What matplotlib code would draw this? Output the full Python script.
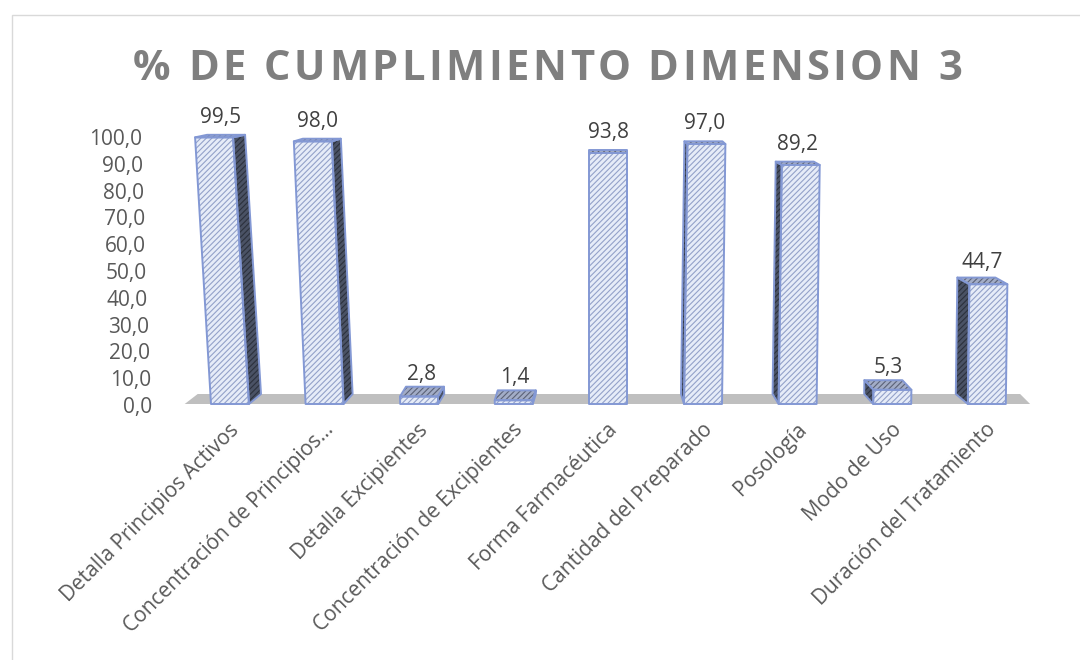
import matplotlib
matplotlib.use("Agg")
import matplotlib.pyplot as plt
import matplotlib.transforms as mtransforms
from matplotlib.patches import Polygon, Rectangle

plt.rcParams["font.family"] = ["Open Sans", "DejaVu Sans"]
plt.rcParams["hatch.linewidth"] = 0.8

TITLE = "% DE CUMPLIMIENTO DIMENSION 3"
CATEGORIES = [
    "Detalla Principios Activos",
    "Concentración de Principios…",
    "Detalla Excipientes",
    "Concentración de Excipientes",
    "Forma Farmacéutica",
    "Cantidad del Preparado",
    "Posología",
    "Modo de Uso",
    "Duración del Tratamiento",
]
VALUES = [99.5, 98.0, 2.8, 1.4, 93.8, 97.0, 89.2, 5.3, 44.7]
Y_TICKS = [0, 10, 20, 30, 40, 50, 60, 70, 80, 90, 100]

W, H = 1080, 660

FRONT_FILL, FRONT_HATCH = "#e6ecf8", "#93a1c9"
SIDE_FILL, SIDE_HATCH = "#4a5265", "#2c313d"
TOP_FILL, TOP_HATCH = "#a2acc6", "#5b6277"
EDGE = "#8398d4"
FLOOR = "#bfbfbf"
LABEL = "#595959"
VALUE_LABEL = "#404040"


def fmt(v):
    return f"{v:.1f}".replace(".", ",")


def face(ax, pts, fill, hatch_col):
    ax.add_patch(Polygon(pts, closed=True, facecolor=fill, edgecolor=hatch_col,
                         hatch="//////", lw=0, clip_on=False, zorder=2))
    ax.add_patch(Polygon(pts, closed=True, fill=False, edgecolor=EDGE, lw=1.4,
                         joinstyle="round", clip_on=False, zorder=3))


def spaced_text(fig, s, cx, baseline, target_w, **kw):
    """Draw s letter by letter, spread out to target_w pixels."""
    r = fig.canvas.get_renderer()

    def width(t):
        tt = fig.text(0, 0, t + "|", **kw)
        w = tt.get_window_extent(r).width
        tt.remove()
        return w

    bar_w = width("")
    natural = width(s) - bar_w
    track = max(0.0, (target_w - natural) / (len(s) - 1))
    x0 = cx - (natural + track * (len(s) - 1)) / 2
    for k, ch in enumerate(s):
        off = width(s[:k]) - bar_w + k * track
        fig.text((x0 + off) / W, baseline, ch, ha="left", va="baseline", **kw)


fig = plt.figure(figsize=(W / 100, H / 100), dpi=100)

# light chart-area frame
fig.patches.append(Rectangle((12 / W, -0.1), 1.2, (H - 15) / H + 0.1,
                             transform=fig.transFigure, fill=False,
                             edgecolor="#d9d9d9", lw=1.0))

ax_l, ax_r, ax_b, ax_t = 182.7, 1034.1, 404, 136
ax = fig.add_axes([ax_l / W, (H - ax_b) / H, (ax_r - ax_l) / W, (ax_b - ax_t) / H])
ax.set_xlim(-0.5, len(VALUES) - 0.5)
ax.set_ylim(0, 100)
ax.axis("off")

px = len(VALUES) / (ax_r - ax_l)   # data units per pixel, x
py = 100 / (ax_b - ax_t)           # data units per pixel, y

# floor
floor_depth = 10 * py
ax.add_patch(Polygon([(-0.5 + 2 * px, 0), (len(VALUES) - 0.5 - 4 * px, 0),
                      (len(VALUES) - 0.5 - 14 * px, floor_depth),
                      (-0.5 + 15 * px, floor_depth)],
                     closed=True, facecolor=FLOOR, edgecolor="none",
                     clip_on=False, zorder=1))

half = 19 * px
mid = (len(VALUES) - 1) / 2
for i, v in enumerate(VALUES):
    rate = 0.04 * (i - mid) if i < mid else (0.035 if i > mid else 0.0)
    lean = rate * v * px
    dx = 3 * (mid - i) * px
    d_top = (10 - 0.075 * v) * py
    d_bot = 10 * py
    xl, xr = i - half, i + half

    if dx != 0:
        e = xr if dx > 0 else xl
        face(ax, [(e, 0), (e + lean, v), (e + lean + dx, v + d_top), (e + dx, d_bot)],
             SIDE_FILL, SIDE_HATCH)
    face(ax, [(xl + lean, v), (xr + lean, v), (xr + lean + dx, v + d_top),
              (xl + lean + dx, v + d_top)], TOP_FILL, TOP_HATCH)
    face(ax, [(xl, 0), (xr, 0), (xr + lean, v), (xl + lean, v)],
         FRONT_FILL, FRONT_HATCH)

    ax.text(i + lean + dx / 2, v + d_top + (7 + 0.05 * v) * py, fmt(v),
            ha="center", va="baseline", fontsize=15, color=VALUE_LABEL, zorder=4)

    ax.text(i + 6 * px, -8.5, CATEGORIES[i], rotation=45, rotation_mode="anchor",
            ha="right", va="center", fontsize=15, color=LABEL, clip_on=False)

for t in Y_TICKS:
    off = mtransforms.ScaledTranslation(-(30.7 + 0.1 * t) / 100, -3.5 / 100,
                                        fig.dpi_scale_trans)
    ax.text(-0.5, t, fmt(t), transform=ax.transData + off, ha="right",
            va="center", fontsize=15, color=LABEL)

spaced_text(fig, TITLE, 547.5, (H - 80) / H, 829, fontsize=30,
            fontweight="bold", color="#7f7f7f")

fig.savefig("out.png", dpi=100)
